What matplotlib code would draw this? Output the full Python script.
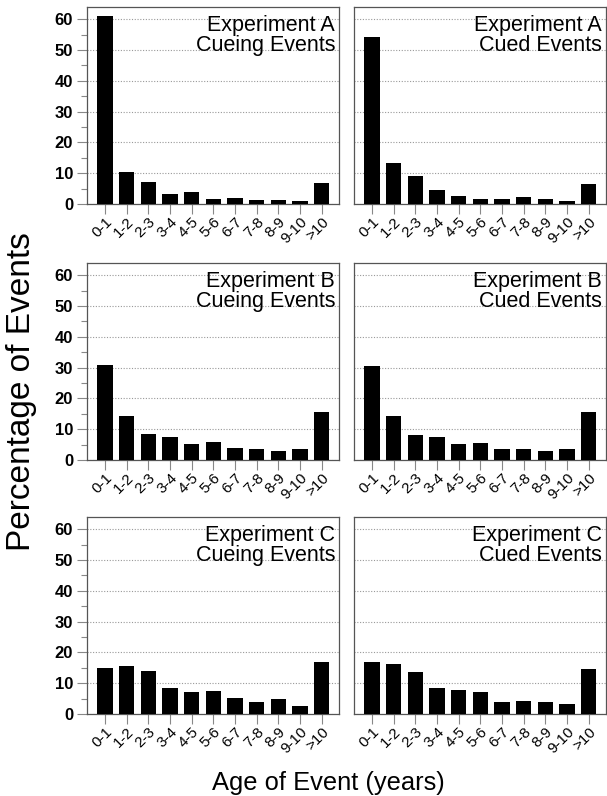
import matplotlib
matplotlib.use("Agg")
import matplotlib.pyplot as plt
import numpy as np
from matplotlib.ticker import MultipleLocator

plt.rcParams["font.family"] = ["Liberation Sans", "DejaVu Sans"]

age_bins = ["0-1", "1-2", "2-3", "3-4", "4-5", "5-6", "6-7", "7-8", "8-9", "9-10", ">10"]

exp_a_cueing = [61.0, 10.4, 7.1, 3.2, 3.8, 1.6, 1.9, 1.3, 1.3, 1.1, 6.9]
exp_a_cued = [54.3, 13.2, 9.2, 4.6, 2.7, 1.6, 1.6, 2.2, 1.5, 1.0, 6.4]
exp_b_cueing = [30.9, 14.4, 8.5, 7.6, 5.2, 6.0, 3.9, 3.6, 3.0, 3.6, 15.7]
exp_b_cued = [30.7, 14.4, 8.2, 7.5, 5.2, 5.6, 3.6, 3.6, 2.8, 3.6, 15.7]
exp_c_cueing = [15.1, 15.6, 14.1, 8.6, 7.0, 7.4, 5.1, 4.0, 4.8, 2.7, 16.8]
exp_c_cued = [17.0, 16.4, 13.8, 8.6, 7.7, 7.0, 3.8, 4.1, 3.8, 3.4, 14.5]

panels = [
    ("Experiment A\nCueing Events", exp_a_cueing),
    ("Experiment A\nCued Events", exp_a_cued),
    ("Experiment B\nCueing Events", exp_b_cueing),
    ("Experiment B\nCued Events", exp_b_cued),
    ("Experiment C\nCueing Events", exp_c_cueing),
    ("Experiment C\nCued Events", exp_c_cued),
]

W, H = 607, 796
fig = plt.figure(figsize=(W / 100, H / 100), dpi=100)

col_left = [87, 354]
row_top = [7, 263, 517]
ax_w, ax_h = 252, 197
spine_col = "#555555"

x = np.arange(len(age_bins))
for i, (title, vals) in enumerate(panels):
    r, c = divmod(i, 2)
    left = col_left[c] / W
    bottom = 1 - (row_top[r] + ax_h) / H
    ax = fig.add_axes([left, bottom, ax_w / W, ax_h / H])
    ax.bar(x, vals, width=0.7, color="black", zorder=3)
    ax.set_xlim(-0.83, 10.8)
    ax.set_ylim(0, 64)
    ax.yaxis.set_major_locator(MultipleLocator(10))
    ax.yaxis.set_minor_locator(MultipleLocator(5))
    ax.grid(axis="y", which="major", linestyle=(0, (1, 1.5)), color="#999999", linewidth=0.8, zorder=0)
    ax.set_xticks(x)
    ax.set_xticklabels(age_bins, rotation=45, ha="right", rotation_mode="anchor", fontsize=11)
    ax.tick_params(axis="x", length=7, width=0.8, color="#888888", pad=1)
    if c == 0:
        ax.tick_params(axis="y", which="major", length=7, width=0.8, color="#888888", labelsize=12, pad=3)
        ax.tick_params(axis="y", which="minor", length=4, width=0.8, color="#888888")
        for lab in ax.get_yticklabels():
            lab.set_fontweight("bold")
    else:
        ax.tick_params(axis="y", which="both", length=0, labelleft=False)
    for s in ax.spines.values():
        s.set_color(spine_col)
        s.set_linewidth(0.9)
    ax.text(0.985, 0.96, title, transform=ax.transAxes, ha="right", va="top",
            fontsize=15.5, linespacing=0.95, zorder=4)

fig.text(22 / W, 1 - 392 / H, "Percentage of Events", rotation=90, ha="center", va="center", fontsize=24)
fig.text(328 / W, 1 - 783 / H, "Age of Event (years)", ha="center", va="center", fontsize=18.4)

fig.savefig("out.png", dpi=100)
